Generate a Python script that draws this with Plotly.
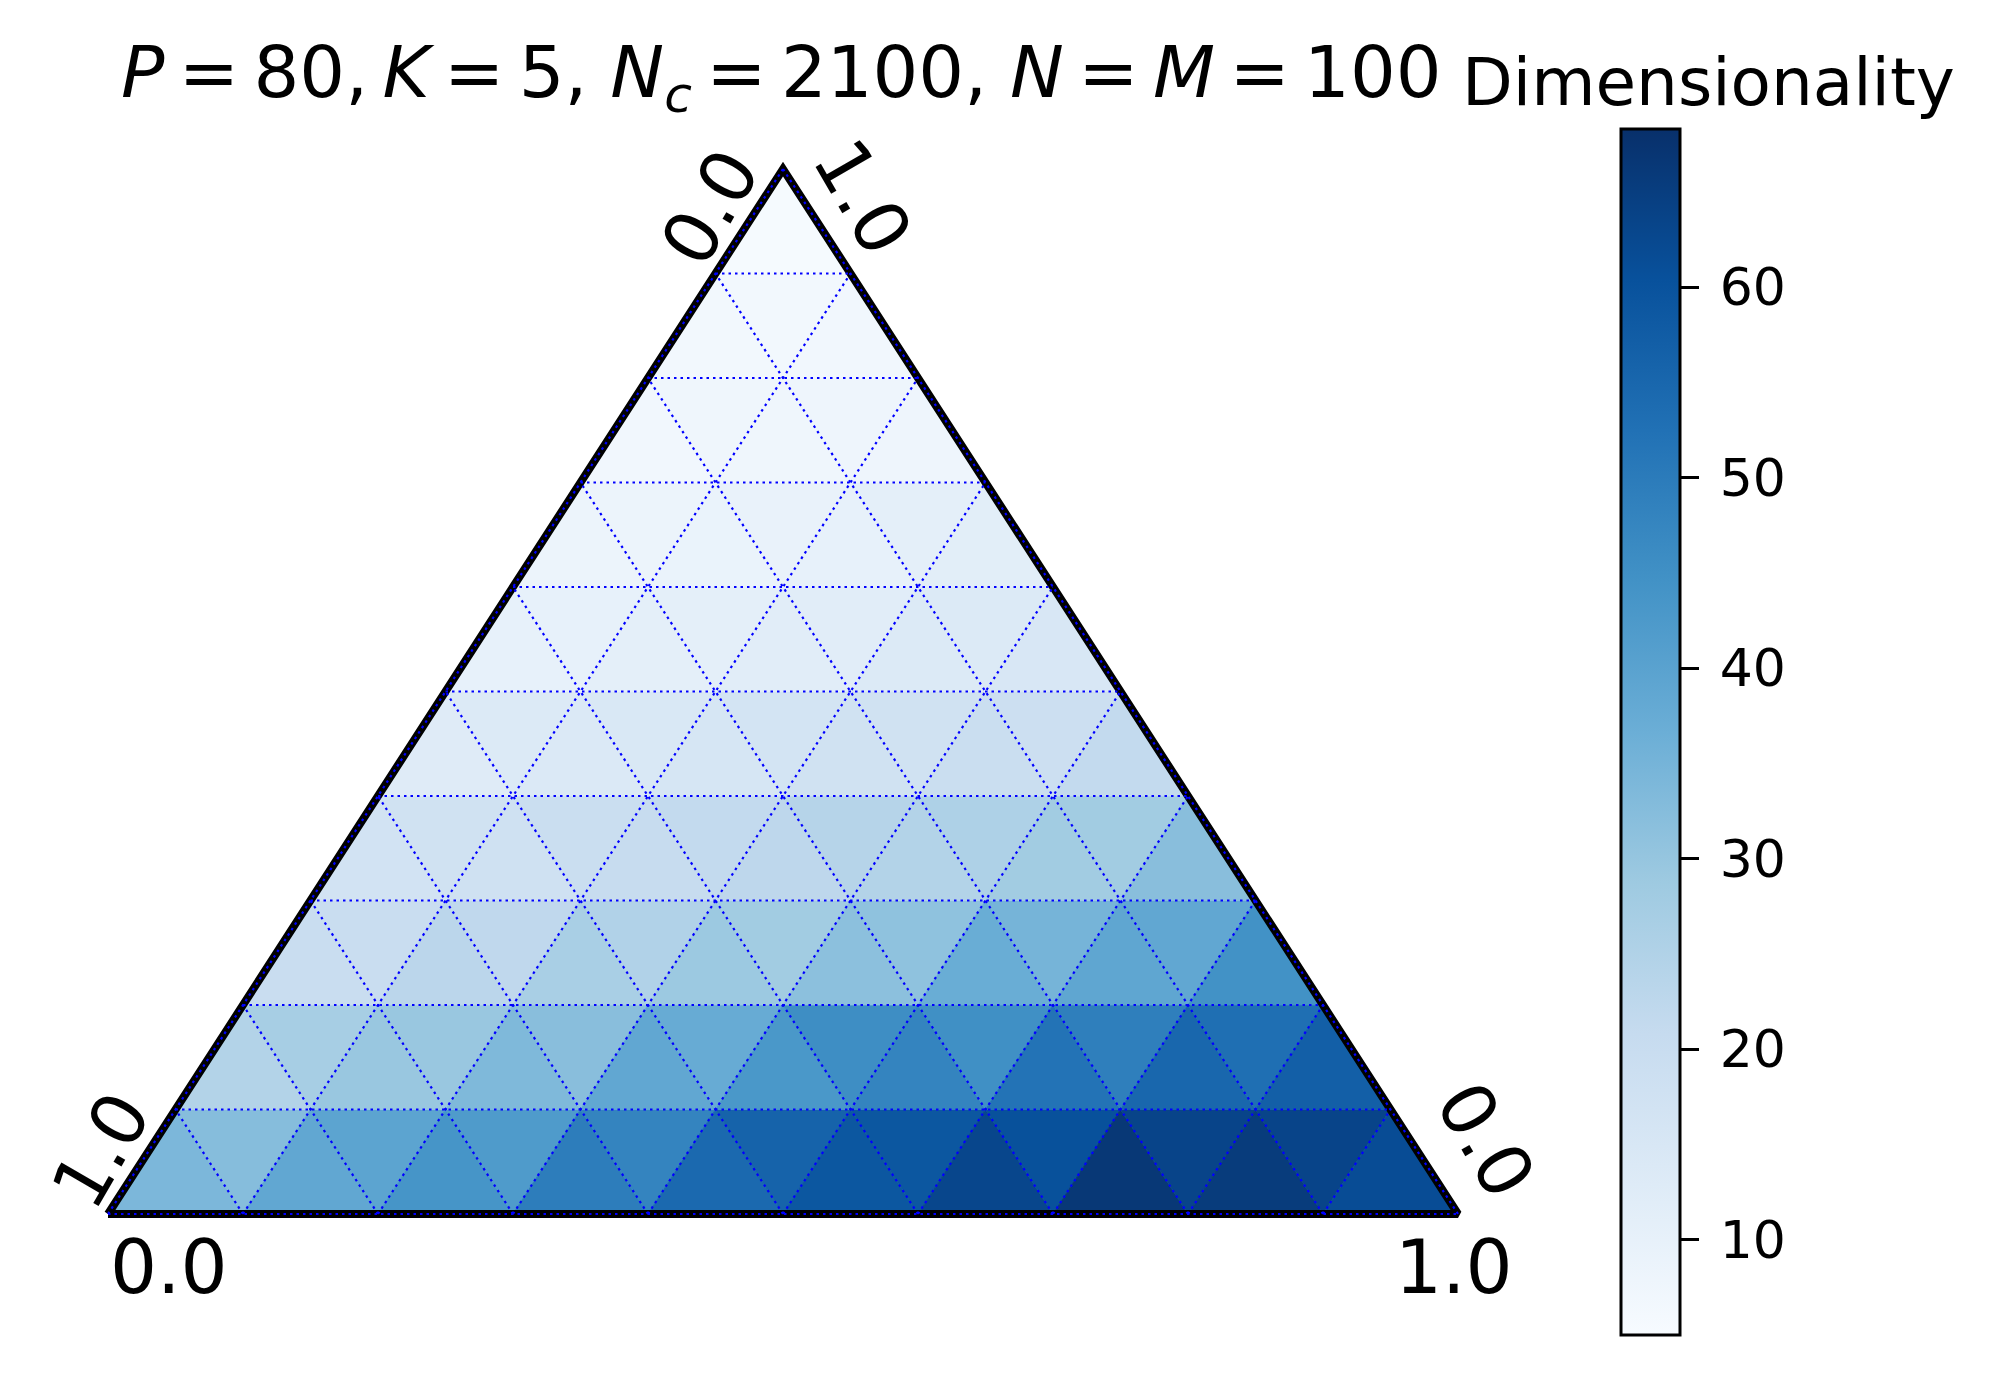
import plotly.graph_objects as go
from plotly.colors import sample_colorscale

# ---------------- data ----------------
SCALE = 10
# Dimensionality of each small triangle, row 0 = bottom, left to right (up, down, up, ...)
row0 = [34, 32.5, 38.5, 39.5, 43.8, 42, 49.5, 48, 54.5, 56, 59, 59, 63, 60.5, 66.5, 63.5, 65.5, 63.5, 61.5]
row1 = [24.5, 27, 29.5, 29.5, 33.5, 32, 38.5, 37.5, 43, 45.5, 48, 45, 52, 49, 55, 53, 57]
row2 = [20, 20, 23, 22, 26.5, 25, 29, 28, 31.5, 31, 37, 35, 39, 38.5, 44.5]
row3 = [17, 17.5, 18, 19.5, 20.5, 21.5, 22.5, 24, 24.5, 25.5, 28, 28, 32]
row4 = [12.7, 13.5, 14, 14.5, 15.5, 16.5, 17.5, 17.5, 19.5, 19, 21.5]
row5 = [10, 10, 11, 11, 12, 12, 13.5, 13.5, 15]
row6 = [8.5, 8.5, 9, 9.5, 10, 11, 11.5]
row7 = [7, 7.5, 7.5, 8, 8]
row8 = [6.5, 6.5, 7]
row9 = [5.5]
ROWS = [row0, row1, row2, row3, row4, row5, row6, row7, row8, row9]

VMIN, VMAX = 5.0, 68.3
CBAR_TICKS = [10, 20, 30, 40, 50, 60]
CBAR_TICKTEXT = ["\u2009" + str(v) for v in CBAR_TICKS]
CBAR_TITLE = "Dimensionality"
TS = "\u2009"
TITLE = (f"<i>P</i>{TS}={TS}80,{TS}<i>K</i>{TS}={TS}5, <i>N</i><sub><i>c</i></sub>{TS}={TS}2100, "
         f"<i>N</i>{TS}={TS}<i>M</i>{TS}={TS}100")

BLUES = [[0.0, '#f7fbff'], [0.125, '#deebf7'], [0.25, '#c6dbef'], [0.375, '#9ecae1'],
         [0.5, '#6baed6'], [0.625, '#4292c6'], [0.75, '#2171b5'], [0.875, '#08519c'],
         [1.0, '#08306b']]

FONT = "DejaVu Sans"

fig = go.Figure()

# ---------------- heatmap triangles ----------------
for r, vals in enumerate(ROWS):
    for idx, v in enumerate(vals):
        k = idx // 2
        if idx % 2 == 0:
            xs = [r / 2 + k, r / 2 + k + 1, r / 2 + k + 0.5, r / 2 + k]
            ys = [r, r, r + 1, r]
        else:
            kk = k + 1
            xs = [r / 2 + kk - 0.5, r / 2 + kk + 0.5, r / 2 + kk, r / 2 + kk - 0.5]
            ys = [r + 1, r + 1, r, r + 1]
        t = min(max((v - VMIN) / (VMAX - VMIN), 0), 1)
        c = sample_colorscale(BLUES, [t])[0]
        fig.add_trace(go.Scatter(x=xs, y=ys, mode="lines", fill="toself", fillcolor=c,
                                 line=dict(color=c, width=0.8), hoverinfo="skip",
                                 showlegend=False))

# ---------------- boundary ----------------
fig.add_trace(go.Scatter(x=[0, SCALE, SCALE / 2, 0], y=[0, 0, SCALE, 0], mode="lines",
                         line=dict(color="black", width=8), hoverinfo="skip",
                         showlegend=False))

# ---------------- gridlines ----------------
gx, gy = [], []
for i in range(SCALE + 1):
    gx += [i / 2, SCALE - i / 2, None]
    gy += [i, i, None]
    gx += [i, i + (SCALE - i) / 2, None]
    gy += [0, SCALE - i, None]
    gx += [i, i / 2, None]
    gy += [0, i, None]
fig.add_trace(go.Scatter(x=gx, y=gy, mode="lines",
                         line=dict(color="#0000ff", width=2.2, dash="2.5px,4px"),
                         hoverinfo="skip", showlegend=False))

# ---------------- colorbar ----------------
fig.add_trace(go.Scatter(
    x=[SCALE / 2], y=[SCALE / 3], mode="markers",
    marker=dict(size=0.1, opacity=0, color=[VMIN], colorscale=BLUES, cmin=VMIN, cmax=VMAX,
                showscale=True,
                colorbar=dict(thickness=59, thicknessmode="pixels", len=1206, lenmode="pixels",
                              x=1621 / 1997, xanchor="left", y=(1377 - 732) / 1377,
                              yanchor="middle", xpad=0, ypad=0,
                              outlinewidth=3, outlinecolor="black",
                              tickvals=CBAR_TICKS, ticktext=CBAR_TICKTEXT,
                              ticks="outside", ticklen=18, tickwidth=3,
                              tickcolor="black",
                              tickfont=dict(family=FONT, size=52, color="black"))),
    hoverinfo="skip", showlegend=False))

# ---------------- text ----------------
def px2x(px):
    return (px - 108) / 135.0

def py2y(py):
    return (1214 - py) / 104.5

corner_labels = [
    ("0.0", 169, 1267, 0), ("1.0", 1454, 1267, 0),
    ("1.0", 101, 1150, -60), ("0.0", 710, 207, -60),
    ("1.0", 863, 197, 60), ("0.0", 1486, 1140, 60),
]
ann = []
for txt, px, py, ang in corner_labels:
    ann.append(dict(x=px2x(px), y=py2y(py), xref="x", yref="y", text=txt, showarrow=False,
                    textangle=ang, xanchor="center", yanchor="middle",
                    font=dict(family=FONT, size=74, color="black")))
ann.append(dict(x=781 / 1997, y=(1377 - 77) / 1377, xref="paper", yref="paper", text=TITLE,
                showarrow=False, xanchor="center", yanchor="middle",
                font=dict(family=FONT, size=72, color="black")))
ann.append(dict(x=1708 / 1997, y=(1377 - 82) / 1377, xref="paper", yref="paper",
                text=CBAR_TITLE, showarrow=False, xanchor="center", yanchor="middle",
                font=dict(family=FONT, size=66, color="black")))

fig.update_layout(
    width=1997, height=1377, margin=dict(l=0, r=0, t=0, b=0),
    paper_bgcolor="white", plot_bgcolor="white", showlegend=False,
    xaxis=dict(range=[-108 / 135, (1997 - 108) / 135], visible=False, fixedrange=True),
    yaxis=dict(range=[-(1377 - 1214) / 104.5, 1214 / 104.5], visible=False, fixedrange=True),
    annotations=ann,
)

fig.write_html("out.html", config={"displayModeBar": False},
               post_script="document.body.style.margin='0';document.body.style.overflow='hidden';")
